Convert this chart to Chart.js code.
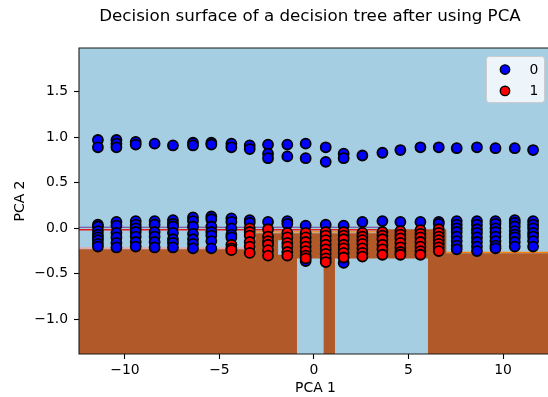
<!DOCTYPE html>
<html>
<head>
<meta charset="utf-8">
<script src="https://cdn.jsdelivr.net/npm/chart.js@4.4.1/dist/chart.umd.min.js"></script>
<style>
  html, body { margin: 0; padding: 0; background: #fff; overflow: hidden; }
  #wrap { width: 620px; height: 397px; }
</style>
</head>
<body>
<div id="wrap"><canvas id="chart" width="620" height="397"></canvas></div>
<script>
// ================================
// DATA
// ================================
const xRange = [-12.43, 12.59];
const yRange = [-1.38, 1.98];
const xTicks = [-10, -5, 0, 5, 10];
const yTicks = [-1.0, -0.5, 0.0, 0.5, 1.0, 1.5];

// PCA 1 position of each column of samples
const colX = [-11.43, -10.45, -9.43, -8.43, -7.46, -6.40, -5.43, -4.37, -3.40, -2.43,
  -1.41, -0.44, 0.62, 1.57, 2.56, 3.62, 4.57, 5.63, 6.60, 7.55, 8.62, 9.60, 10.62, 11.59];

// class 0, upper band (PCA 2)
const blueUpper = [
  [0.97, 0.89], [0.97, 0.93, 0.89], [0.95, 0.92], [0.93], [0.91], [0.94, 0.91],
  [0.94, 0.92], [0.93, 0.89], [0.91, 0.87], [0.92, 0.82, 0.77], [0.92, 0.79], [0.93, 0.77],
  [0.89, 0.73], [0.82, 0.77], [0.80], [0.83], [0.86], [0.89],
  [0.89], [0.88], [0.89], [0.88], [0.88], [0.86]
];

// class 0, lower band (PCA 2)
const blueLower = [
  [0.04, 0.02, -0.03, -0.07, -0.10, -0.13, -0.17, -0.20],
  [0.07, 0.03, -0.05, -0.10, -0.16, -0.21],
  [0.08, 0.04, 0.00, -0.04, -0.09, -0.15, -0.20],
  [0.08, 0.04, -0.04, -0.09, -0.15, -0.21],
  [0.09, 0.05, 0.02, -0.05, -0.12, -0.16, -0.21],
  [0.12, 0.08, 0.02, -0.06, -0.12, -0.17, -0.22],
  [0.13, 0.10, 0.02, -0.04, -0.08, -0.14, -0.22],
  [0.11, 0.07, 0.00, -0.07, -0.10],
  [0.09, 0.06],
  [0.07],
  [0.08, 0.05],
  [0.03, -0.36],
  [0.04],
  [0.03, -0.38],
  [0.07],
  [0.08],
  [0.07],
  [0.07],
  [0.07, 0.05],
  [0.08, 0.04, 0.00, -0.04, -0.09, -0.14, -0.19, -0.23],
  [0.08, 0.04, -0.01, -0.05, -0.10, -0.15, -0.20, -0.25],
  [0.08, 0.05, 0.00, -0.04, -0.09, -0.14, -0.19, -0.22],
  [0.09, 0.06, 0.02, -0.03, -0.07, -0.10, -0.15, -0.20],
  [0.08, 0.04, 0.00, -0.05, -0.09, -0.14, -0.20]
];

// class 1 (PCA 2)
const redY = [
  [], [], [], [], [], [], [],
  [-0.18, -0.22, -0.24],
  [0.00, -0.04, -0.08, -0.15, -0.20, -0.27],
  [-0.01, -0.09, -0.14, -0.18, -0.24, -0.30],
  [-0.05, -0.10, -0.16, -0.20, -0.26, -0.30],
  [-0.05, -0.10, -0.15, -0.20, -0.25, -0.30, -0.33],
  [-0.04, -0.08, -0.13, -0.18, -0.23, -0.28, -0.33, -0.37],
  [-0.04, -0.08, -0.12, -0.18, -0.22, -0.27, -0.32],
  [-0.05, -0.09, -0.13, -0.17, -0.22, -0.27, -0.31],
  [-0.04, -0.08, -0.12, -0.18, -0.23, -0.29],
  [-0.03, -0.07, -0.11, -0.16, -0.21, -0.26, -0.29],
  [-0.02, -0.06, -0.10, -0.15, -0.20, -0.25, -0.29],
  [-0.01, -0.05, -0.09, -0.13, -0.17, -0.21, -0.25],
  [], [], [], [], []
];

// decision surface: class 1 region runs from the bottom up to a stepped top edge
const splitX = [-3.1, 3.6, 7.0];
const class1TopY = [-0.23, -0.055, -0.01, -0.274];
// class 0 pockets cut out of it [x0, x1, y0, y1]
const class0Boxes = [
  [-0.90, 0.51, -1.38, -0.33],
  [1.11, 6.03, -1.38, -0.33],
  [-1.90, -1.64, -0.29, -0.13]
];
// thin contour fringes along the borders [x0, x1, y]
const fringes = [
  [-12.43, 3.6, 0.012],
  [-12.43, 3.6, -0.016],
  [-12.43, -3.1, -0.218],
  [-3.1, 3.6, -0.038],
  [7.0, 12.59, -0.264]
];

// ================================
// STYLE
// ================================
const FONT = 'DejaVu Sans';
const COLORS = {
  class0Area: '#a6cee3',
  class1Area: '#b15928',
  fringe: ['#6a3d9a', '#e31a1c', '#fb9a99', '#ff7f00', '#ff7f00'],
  class0: '#0000ff',
  class1: '#ff0000'
};
const FRINGE_WIDTH = [1, 1.6, 1.2, 1.2, 1.2];

const minus = (s) => s.replace('-', '\u2212');

// ================================
// BUILD DATASETS
// ================================
function boxPoints([x0, x1, y0, y1]) {
  return [{ x: x0, y: y0 }, { x: x1, y: y0 }, { x: x1, y: y1 }, { x: x0, y: y1 }, { x: x0, y: y0 }];
}

function class1Polygon() {
  const edges = [xRange[0], ...splitX, xRange[1]];
  const pts = [{ x: xRange[0], y: yRange[0] }];
  class1TopY.forEach((y, i) => {
    pts.push({ x: edges[i], y });
    pts.push({ x: edges[i + 1], y });
  });
  pts.push({ x: xRange[1], y: yRange[0] });
  pts.push({ x: xRange[0], y: yRange[0] });
  return pts;
}

const areaDataset = (data, color, order) => ({
  type: 'line',
  data,
  backgroundColor: color,
  borderColor: 'transparent',
  borderWidth: 0,
  pointRadius: 0,
  fill: 'shape',
  tension: 0,
  order
});

const pointsOf = (lists) =>
  colX.flatMap((x, i) => lists.flatMap(l => l[i]).map(y => ({ x, y })));

const datasets = [
  areaDataset(boxPoints([xRange[0], xRange[1], yRange[0], yRange[1]]), COLORS.class0Area, 100),
  areaDataset(class1Polygon(), COLORS.class1Area, 90),
  ...class0Boxes.map(b => areaDataset(boxPoints(b), COLORS.class0Area, 80)),
  ...fringes.map(([x0, x1, y], i) => ({
    type: 'line',
    data: [{ x: x0, y }, { x: x1, y }],
    borderColor: COLORS.fringe[i],
    borderWidth: FRINGE_WIDTH[i],
    pointRadius: 0,
    fill: false,
    order: 70
  })),
  {
    label: '0',
    data: pointsOf([blueUpper, blueLower]),
    backgroundColor: COLORS.class0,
    borderColor: '#000',
    borderWidth: 1.8,
    pointRadius: 5,
    order: 2
  },
  {
    label: '1',
    data: pointsOf([redY]),
    backgroundColor: COLORS.class1,
    borderColor: '#000',
    borderWidth: 1.8,
    pointRadius: 5,
    order: 1
  }
];

// ================================
// PLUGINS
// ================================
const framePlugin = {
  id: 'frame',
  afterDatasetsDraw(chart) {
    const { ctx, chartArea: a } = chart;
    ctx.save();
    ctx.strokeStyle = '#1a1a1a';
    ctx.lineWidth = 1.1;
    ctx.beginPath();
    ctx.moveTo(a.right, a.top);
    ctx.lineTo(a.left, a.top);
    ctx.lineTo(a.left, a.bottom);
    ctx.lineTo(a.right, a.bottom);
    ctx.stroke();
    ctx.restore();
  }
};

const legendPlugin = {
  id: 'mplLegend',
  afterDatasetsDraw(chart) {
    const { ctx, chartArea: a } = chart;
    const w = 58, h = 46;
    const x = a.right - 8 - w, y = a.top + 8;
    ctx.save();
    ctx.fillStyle = 'rgba(255,255,255,0.8)';
    ctx.strokeStyle = '#cccccc';
    ctx.lineWidth = 1;
    ctx.beginPath();
    if (ctx.roundRect) ctx.roundRect(x + 0.5, y + 0.5, w, h, 3);
    else ctx.rect(x + 0.5, y + 0.5, w, h);
    ctx.fill();
    ctx.stroke();

    const items = [
      { label: datasets[datasets.length - 2].label, color: COLORS.class0 },
      { label: datasets[datasets.length - 1].label, color: COLORS.class1 }
    ];
    items.forEach((it, i) => {
      const cy = y + 13.5 + i * 21.4;
      ctx.beginPath();
      ctx.arc(x + 19, cy, 4.7, 0, Math.PI * 2);
      ctx.fillStyle = it.color;
      ctx.fill();
      ctx.strokeStyle = '#000';
      ctx.lineWidth = 1.4;
      ctx.stroke();
      ctx.fillStyle = '#000';
      ctx.font = `13.9px "${FONT}"`;
      ctx.textBaseline = 'middle';
      ctx.textAlign = 'left';
      ctx.fillText(it.label, x + 43.5, cy + 0.5);
    });
    ctx.restore();
  }
};

// ================================
// CHART
// ================================
const tickFont = { family: FONT, size: 13.9 };
const tickGrid = {
  display: true,
  drawOnChartArea: false,
  drawTicks: true,
  tickLength: 5,
  tickColor: '#000',
  tickWidth: 1.1
};

new Chart(document.getElementById('chart'), {
  type: 'scatter',
  data: { datasets },
  options: {
    responsive: false,
    animation: false,
    events: [],
    devicePixelRatio: 1,
    layout: { padding: 0, autoPadding: false },
    plugins: {
      legend: { display: false },
      tooltip: { enabled: false },
      title: {
        display: true,
        text: 'Decision surface of a decision tree after using PCA',
        color: '#000',
        font: { family: FONT, size: 16.7, weight: 'normal' },
        padding: { top: 7, bottom: 21 }
      }
    },
    scales: {
      x: {
        type: 'linear',
        position: 'bottom',
        min: xRange[0],
        max: xRange[1],
        afterBuildTicks: (s) => { s.ticks = xTicks.map(v => ({ value: v })); },
        afterFit: (s) => { s.height = 43; },
        ticks: {
          color: '#000',
          font: tickFont,
          padding: 3,
          maxRotation: 0,
          autoSkip: false,
          callback: (v) => minus(String(v))
        },
        grid: tickGrid,
        border: { display: false },
        title: {
          display: true,
          text: 'PCA 1',
          color: '#000',
          font: tickFont,
          padding: { top: 0, bottom: 0 }
        }
      },
      y: {
        type: 'linear',
        position: 'left',
        min: yRange[0],
        max: yRange[1],
        afterBuildTicks: (s) => { s.ticks = yTicks.map(v => ({ value: v })); },
        afterFit: (s) => { s.width = 79; },
        ticks: {
          color: '#000',
          font: tickFont,
          padding: 6,
          autoSkip: false,
          callback: (v) => minus(v.toFixed(1))
        },
        grid: tickGrid,
        border: { display: false },
        title: {
          display: true,
          text: 'PCA 2',
          color: '#000',
          font: tickFont,
          padding: { top: 12, bottom: 0 }
        }
      },
      // empty strip on the right so the title centres over the full figure
      spare: {
        type: 'linear',
        position: 'right',
        display: true,
        afterFit: (s) => { s.width = 68; },
        ticks: { display: false },
        grid: { display: false },
        border: { display: false }
      }
    }
  },
  plugins: [framePlugin, legendPlugin]
});
</script>
</body>
</html>
